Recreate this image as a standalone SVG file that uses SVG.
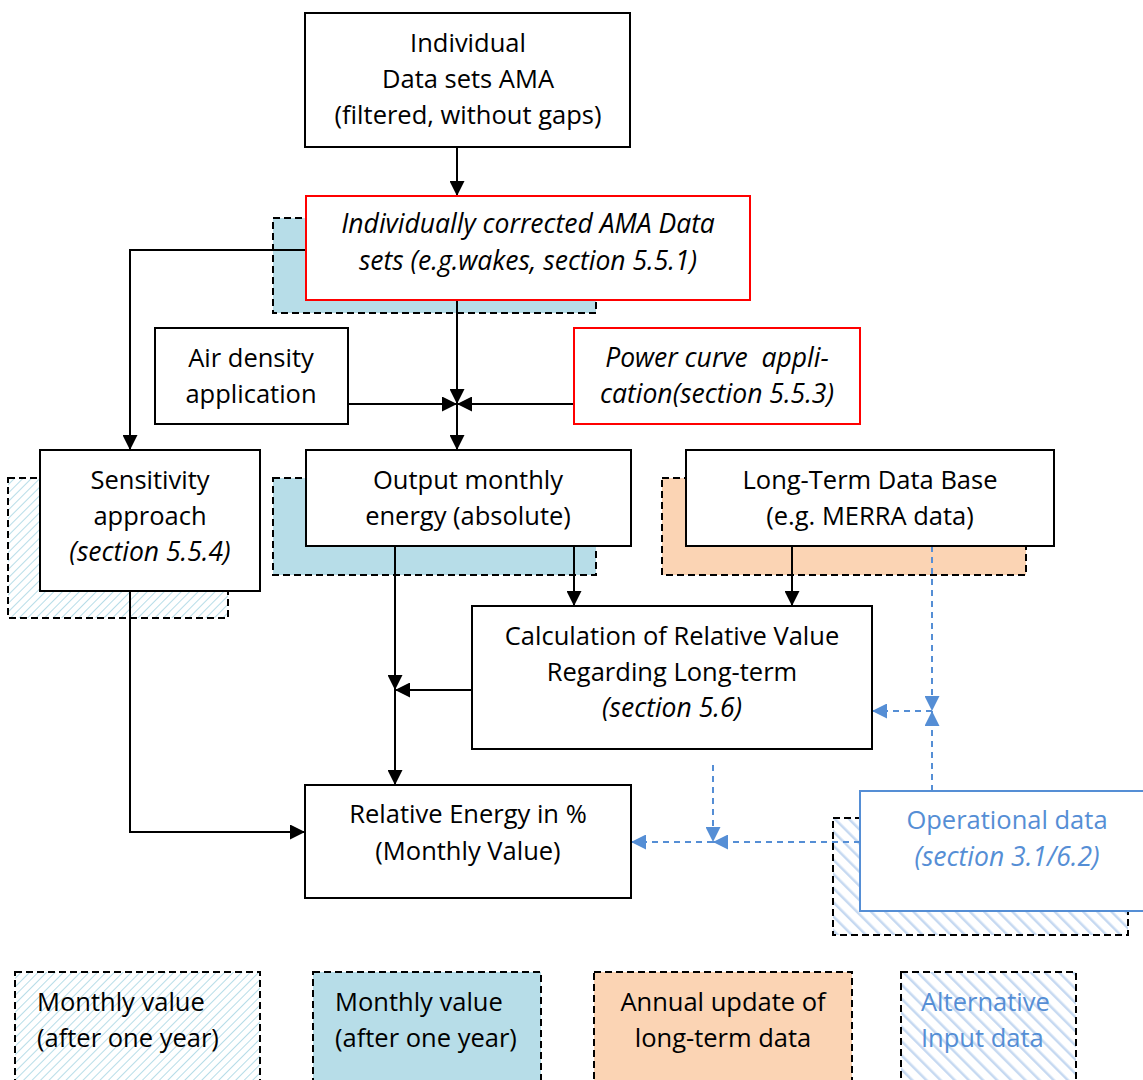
<svg xmlns="http://www.w3.org/2000/svg" width="1143" height="1080" viewBox="0 0 1143 1080">
<defs>
<pattern id="hatchLight" patternUnits="userSpaceOnUse" width="6" height="6" patternTransform="rotate(45)">
<rect width="6" height="6" fill="#ffffff"/>
<line x1="0" y1="0" x2="0" y2="6" stroke="#B7DDE8" stroke-width="2"/>
</pattern>
<pattern id="hatchBlue" patternUnits="userSpaceOnUse" width="10" height="10" patternTransform="rotate(-45)">
<rect width="10" height="10" fill="#ffffff"/>
<line x1="0" y1="0" x2="0" y2="10" stroke="#C6D9F1" stroke-width="5"/>
</pattern>
<marker id="ah" viewBox="0 0 10 10" refX="10" refY="5" markerWidth="15" markerHeight="15" markerUnits="userSpaceOnUse" orient="auto">
<path d="M0,0 L10,5 L0,10 z" fill="#000"/>
</marker>
<marker id="ahb" viewBox="0 0 10 10" refX="10" refY="5" markerWidth="15" markerHeight="15" markerUnits="userSpaceOnUse" orient="auto">
<path d="M0,0 L10,5 L0,10 z" fill="#558ED5"/>
</marker>
</defs>
<style>
text{font-family:"Open Sans",Lato,sans-serif;font-size:25.5px;fill:#000;text-anchor:middle}
.it{font-style:italic;font-size:26.5px}
.bl{fill:#558ED5}
.lt{text-anchor:start}
.pre{white-space:pre}
.box{fill:#fff;stroke:#000;stroke-width:2}
.red{fill:#fff;stroke:#FF0000;stroke-width:2}
.bbox{fill:#fff;stroke:#558ED5;stroke-width:2}
.sh{stroke:#000;stroke-width:2;stroke-dasharray:7 4}
.c{fill:none;stroke:#000;stroke-width:2}
.cb{fill:none;stroke:#558ED5;stroke-width:2;stroke-dasharray:6 5}
</style>
<rect width="1143" height="1080" fill="#fff"/>

<g id="shadows">
<rect x="273" y="218" width="323" height="95" fill="#B7DDE8" class="sh"/>
<rect x="8" y="478" width="220" height="140" fill="url(#hatchLight)" class="sh"/>
<rect x="273" y="478" width="323" height="97" fill="#B7DDE8" class="sh"/>
<rect x="662" y="478" width="364" height="97" fill="#FBD4B4" class="sh"/>
<rect x="833" y="818" width="295" height="117" fill="url(#hatchBlue)" class="sh"/>
</g>

<g id="connectors">
<line x1="457" y1="147" x2="457" y2="196" class="c" marker-end="url(#ah)"/>
<polyline points="306,250 130,250 130,450" class="c" marker-end="url(#ah)"/>
<line x1="457" y1="300" x2="457" y2="404" class="c" marker-end="url(#ah)"/>
<line x1="348" y1="404" x2="457" y2="404" class="c" marker-end="url(#ah)"/>
<line x1="574" y1="404" x2="457" y2="404" class="c" marker-end="url(#ah)"/>
<line x1="457" y1="404" x2="457" y2="450" class="c" marker-end="url(#ah)"/>
<line x1="574" y1="546" x2="574" y2="606" class="c" marker-end="url(#ah)"/>
<line x1="792" y1="546" x2="792" y2="606" class="c" marker-end="url(#ah)"/>
<line x1="395" y1="546" x2="395" y2="690" class="c" marker-end="url(#ah)"/>
<line x1="472" y1="690" x2="395" y2="690" class="c" marker-end="url(#ah)"/>
<line x1="395" y1="690" x2="395" y2="785" class="c" marker-end="url(#ah)"/>
<polyline points="130,591 130,832 305,832" class="c" marker-end="url(#ah)"/>
<line x1="932" y1="546" x2="932" y2="711" class="cb" marker-end="url(#ahb)"/>
<line x1="932" y1="791" x2="932" y2="711" class="cb" marker-end="url(#ahb)"/>
<line x1="932" y1="711" x2="872" y2="711" class="cb" marker-end="url(#ahb)"/>
<line x1="713" y1="765" x2="713" y2="842" class="cb" marker-end="url(#ahb)"/>
<line x1="860" y1="842" x2="713" y2="842" class="cb" marker-end="url(#ahb)"/>
<line x1="713" y1="842" x2="631" y2="842" class="cb" marker-end="url(#ahb)"/>
</g>

<g id="n-individual">
<rect x="305" y="13" width="325" height="134" class="box"/>
<text x="468" y="52">Individual</text>
<text x="468" y="88">Data sets AMA</text>
<text x="468" y="124">(filtered, without gaps)</text>
</g>

<g id="n-corrected">
<rect x="306" y="196" width="444" height="104" class="red"/>
<text x="528" y="233" class="it">Individually corrected AMA Data</text>
<text x="528" y="270" class="it">sets (e.g.wakes, section 5.5.1)</text>
</g>

<g id="n-airdensity">
<rect x="155" y="328" width="193" height="96" class="box"/>
<text x="251" y="367">Air density</text>
<text x="251" y="403">application</text>
</g>

<g id="n-powercurve">
<rect x="574" y="328" width="286" height="96" class="red"/>
<text x="717" y="367" class="it pre">Power curve  appli-</text>
<text x="717" y="403" class="it">cation(section 5.5.3)</text>
</g>

<g id="n-sensitivity">
<rect x="40" y="450" width="220" height="141" class="box"/>
<text x="150" y="489">Sensitivity</text>
<text x="150" y="525">approach</text>
<text x="150" y="561" class="it">(section 5.5.4)</text>
</g>

<g id="n-output">
<rect x="306" y="450" width="325" height="96" class="box"/>
<text x="468" y="489">Output monthly</text>
<text x="468" y="525">energy (absolute)</text>
</g>

<g id="n-longterm">
<rect x="686" y="450" width="368" height="96" class="box"/>
<text x="870" y="489">Long-Term Data Base</text>
<text x="870" y="525">(e.g. MERRA data)</text>
</g>

<g id="n-calc">
<rect x="472" y="606" width="400" height="143" class="box"/>
<text x="672" y="645">Calculation of Relative Value</text>
<text x="672" y="681">Regarding Long-term</text>
<text x="672" y="717" class="it">(section 5.6)</text>
</g>

<g id="n-relative">
<rect x="305" y="785" width="326" height="113" class="box"/>
<text x="468" y="823">Relative Energy in %</text>
<text x="468" y="860">(Monthly Value)</text>
</g>

<g id="n-operational">
<rect x="860" y="791" width="290" height="120" class="bbox"/>
<text x="1007" y="829" class="bl">Operational data</text>
<text x="1007" y="866" class="bl it">(section 3.1/6.2)</text>
</g>

<g id="legend">
<g id="leg1">
<rect x="15" y="972" width="245" height="120" fill="url(#hatchLight)" class="sh"/>
<text x="37" y="1011" class="lt">Monthly value</text>
<text x="37" y="1047" class="lt">(after one year)</text>
</g>
<g id="leg2">
<rect x="313" y="972" width="228" height="120" fill="#B7DDE8" class="sh"/>
<text x="335" y="1011" class="lt">Monthly value</text>
<text x="335" y="1047" class="lt">(after one year)</text>
</g>
<g id="leg3">
<rect x="594" y="972" width="258" height="120" fill="#FBD4B4" class="sh"/>
<text x="723" y="1011">Annual update of</text>
<text x="723" y="1047">long-term data</text>
</g>
<g id="leg4">
<rect x="901" y="972" width="175" height="120" fill="url(#hatchBlue)" class="sh"/>
<text x="921" y="1011" class="lt bl">Alternative</text>
<text x="921" y="1047" class="lt bl">Input data</text>
</g>
</g>
</svg>
